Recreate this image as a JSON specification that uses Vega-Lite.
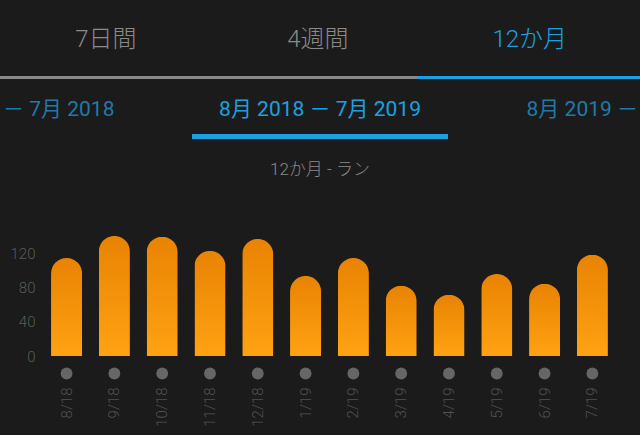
{
  "$schema": "https://vega.github.io/schema/vega-lite/v6.json",
  "background": "#1b1b1b",
  "padding": {"left": 0, "right": 0, "top": 0, "bottom": 8},
  "spacing": 0,
  "config": {
    "view": {"stroke": null},
    "font": "Roboto, 'Noto Sans CJK JP'",
    "axis": {"labelFont": "Roboto", "labelFontWeight": 300}
  },
  "resolve": {"scale": {"x": "independent", "y": "independent"}},
  "vconcat": [
    {
      "width": 640,
      "height": 76,
      "data": {"values": [
        {"tab": "7日間", "active": "no"},
        {"tab": "4週間", "active": "no"},
        {"tab": "12か月", "active": "yes"}
      ]},
      "mark": {"type": "text", "fontSize": 24, "fontWeight": 300, "baseline": "middle", "dy": 2, "font": "Roboto, 'Noto Sans CJK JP'"},
      "encoding": {
        "x": {"field": "tab", "type": "nominal", "sort": null, "axis": null, "bandPosition": 0.5,
              "scale": {"type": "band", "paddingInner": 0, "paddingOuter": 0.01, "align": 0}},
        "text": {"field": "tab"},
        "color": {"field": "active", "type": "nominal", "legend": null,
                  "scale": {"domain": ["no", "yes"], "range": ["#8a8a8a", "#1ba1e2"]}}
      }
    },
    {
      "width": 640,
      "height": 3,
      "data": {"values": [
        {"tab": "7日間", "active": "no"},
        {"tab": "4週間", "active": "no"},
        {"tab": "12か月", "active": "yes"}
      ]},
      "mark": {"type": "bar", "width": {"band": 1.06}, "clip": true},
      "encoding": {
        "x": {"field": "tab", "type": "nominal", "sort": null, "axis": null,
              "scale": {"type": "band", "paddingInner": 0, "paddingOuter": 0.01, "align": 0}},
        "color": {"field": "active", "type": "nominal", "legend": null,
                  "scale": {"domain": ["no", "yes"], "range": ["#555555", "#1ba1e2"]}}
      }
    },
    {
      "width": 640,
      "height": 55,
      "data": {"values": [
        {"pos": "left", "label": "－ 7月 2018"},
        {"pos": "center", "label": "8月 2018 － 7月 2019"},
        {"pos": "right", "label": "8月 2019 －"}
      ]},
      "layer": [
        {
          "transform": [{"filter": "datum.pos === 'left'"}],
          "mark": {"type": "text", "fontSize": 21, "fontWeight": 400, "align": "left", "baseline": "middle", "dy": 3, "dx": 3, "color": "#1f7aaa"},
          "encoding": {
            "x": {"field": "pos", "type": "nominal", "axis": null, "bandPosition": 0,
                  "scale": {"type": "band", "domain": ["left", "center", "right"], "paddingInner": 0, "paddingOuter": 0}},
            "text": {"field": "label"}
          }
        },
        {
          "transform": [{"filter": "datum.pos === 'center'"}],
          "mark": {"type": "text", "fontSize": 21, "fontWeight": 400, "align": "center", "baseline": "middle", "dy": 3, "color": "#1ba1e2"},
          "encoding": {
            "x": {"field": "pos", "type": "nominal", "axis": null, "bandPosition": 0.5,
                  "scale": {"type": "band", "domain": ["left", "center", "right"], "paddingInner": 0, "paddingOuter": 0}},
            "text": {"field": "label"}
          }
        },
        {
          "transform": [{"filter": "datum.pos === 'right'"}],
          "mark": {"type": "text", "fontSize": 21, "fontWeight": 400, "align": "right", "baseline": "middle", "dy": 3, "dx": -2, "color": "#1f7aaa"},
          "encoding": {
            "x": {"field": "pos", "type": "nominal", "axis": null, "bandPosition": 1,
                  "scale": {"type": "band", "domain": ["left", "center", "right"], "paddingInner": 0, "paddingOuter": 0}},
            "text": {"field": "label"}
          }
        }
      ]
    },
    {
      "width": 640,
      "height": 5,
      "data": {"values": [{"pos": "center"}]},
      "mark": {"type": "bar", "width": {"band": 1.2}, "color": "#1ba1e2"},
      "encoding": {
        "x": {"field": "pos", "type": "nominal", "axis": null,
              "scale": {"type": "band", "domain": ["left", "center", "right"], "paddingInner": 0, "paddingOuter": 0}}
      }
    },
    {
      "width": 640,
      "height": 61,
      "data": {"values": [{"label": "12か月 - ラン"}]},
      "mark": {"type": "text", "fontSize": 17, "fontWeight": 300, "baseline": "middle", "color": "#8a8a8a"},
      "encoding": {"text": {"field": "label"}}
    },
    {
      "width": 640,
      "height": 156,
      "data": {"values": [
        {"month": "8/18", "value": 114.7},
        {"month": "9/18", "value": 140.5},
        {"month": "10/18", "value": 139.7},
        {"month": "11/18", "value": 123},
        {"month": "12/18", "value": 137},
        {"month": "1/19", "value": 93.7},
        {"month": "2/19", "value": 114.7},
        {"month": "3/19", "value": 82.3},
        {"month": "4/19", "value": 71.8},
        {"month": "5/19", "value": 96},
        {"month": "6/19", "value": 84.7},
        {"month": "7/19", "value": 118.6}
      ]},
      "encoding": {
        "x": {"field": "month", "type": "nominal", "sort": null,
              "scale": {"type": "band", "paddingInner": 0.35, "paddingOuter": 0.8695, "align": 0.614},
              "axis": {"title": null, "labelAngle": -90, "labelPadding": 31, "ticks": false, "domain": false,
                       "labelFontSize": 15, "labelColor": "#525252"}}
      },
      "layer": [
        {
          "mark": {"type": "bar", "cornerRadiusTopLeft": 15.5, "cornerRadiusTopRight": 15.5,
                   "color": {"gradient": "linear", "x1": 0, "y1": 0, "x2": 0, "y2": 1,
                             "stops": [{"offset": 0, "color": "#e98303"}, {"offset": 1, "color": "#ffa212"}]}},
          "encoding": {
            "y": {"field": "value", "type": "quantitative",
                  "scale": {"domain": [0, 182.6], "nice": false},
                  "axis": {"title": null, "values": [0, 40, 80, 120], "grid": false, "ticks": false, "domain": false,
                           "offset": -37, "labelPadding": 2, "labelFontSize": 15, "labelColor": "#5a5a5a"}}
          }
        },
        {
          "mark": {"type": "point", "filled": true, "shape": "circle", "size": 140, "opacity": 1, "color": "#666666", "yOffset": 17.5},
          "encoding": {
            "x": {"field": "month", "type": "nominal", "sort": null, "bandPosition": 0.5},
            "y": {"datum": 0, "type": "quantitative"}
          }
        }
      ]
    }
  ]
}
